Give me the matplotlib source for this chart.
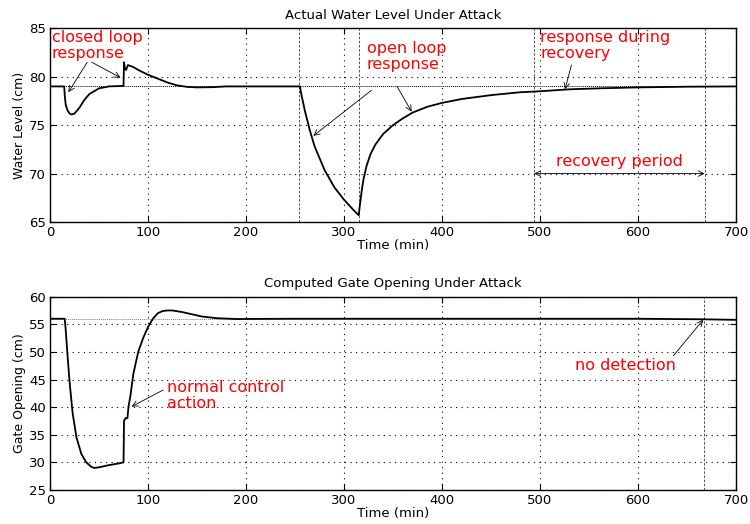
import numpy as np
import matplotlib
matplotlib.use("Agg")
import matplotlib.pyplot as plt

plt.rcParams['font.family'] = ['DejaVu Sans']

# water level (cm) vs time (min)
level_t = [0, 14.5, 15, 16, 18, 20, 22, 25, 30, 35, 40, 50, 60, 75, 75.5, 76.5, 77.5, 79.5,
           85, 90, 100, 110, 120, 130, 140, 150, 165, 180, 255, 256, 260, 265, 270, 280, 290,
           300, 310, 315, 316, 318, 320, 323, 327, 332, 340, 350, 360, 370, 385, 400, 420,
           450, 480, 500, 530, 560, 600, 650, 700]
level_v = [79, 79, 78.1, 77.1, 76.5, 76.2, 76.1, 76.2, 76.8, 77.6, 78.2, 78.8, 79.0, 79.05,
           81.5, 80.8, 80.7, 81.2, 81.0, 80.7, 80.2, 79.8, 79.4, 79.1, 78.95, 78.9, 78.92,
           79.0, 79.0, 78.4, 76.5, 74.5, 72.8, 70.4, 68.6, 67.3, 66.2, 65.7, 66.6, 68.2,
           69.5, 70.8, 72.0, 73.0, 74.1, 75.0, 75.7, 76.3, 76.9, 77.3, 77.7, 78.1, 78.4,
           78.5, 78.7, 78.8, 78.9, 78.97, 79.0]
level_ref = 79

# gate opening (cm) vs time (min)
gate_t = [0, 15, 16, 18, 20, 23, 27, 32, 37, 42, 45, 50, 60, 70, 75, 75.5, 77, 79, 80, 82,
          85, 90, 95, 100, 105, 110, 115, 120, 125, 135, 145, 155, 170, 190, 250, 400, 600,
          665, 700]
gate_v = [56, 56, 54, 49, 44.5, 39, 34.5, 31.5, 30, 29.2, 29, 29.1, 29.5, 29.8, 30, 37.5,
          38, 38, 40, 42, 46, 50, 52.5, 54.5, 56, 57, 57.4, 57.5, 57.5, 57.2, 56.8, 56.4,
          56.1, 55.95, 56, 56, 56, 55.9, 55.8]
gate_ref = 56

top_events = [254.5, 315, 494, 668]
bottom_events = [667]

red = '#ff0000'
fig = plt.figure(figsize=(7.5, 5.24), dpi=100)
ax1 = fig.add_axes([0.0667, 0.5763, 0.9147, 0.3697])
ax2 = fig.add_axes([0.0667, 0.0649, 0.9147, 0.369])


def style(ax, ylim, yticks):
    ax.set_xlim(0, 700)
    ax.set_ylim(*ylim)
    ax.set_xticks(np.arange(0, 701, 100))
    ax.set_yticks(yticks)
    ax.grid(True, color='black', linestyle=(0, (1, 4)), linewidth=0.8)
    ax.tick_params(direction='in', top=True, right=True, labelsize=9.5, length=4, pad=3)
    for s in ax.spines.values():
        s.set_linewidth(1.0)
    ax.set_xlabel('Time (min)', fontsize=9.5, labelpad=0)


ax1.plot([0, 700], [level_ref, level_ref], color='black', linestyle=(0, (1, 1)), linewidth=0.7)
ax1.plot(level_t, level_v, color='black', linewidth=1.3)
for x in top_events:
    ax1.axvline(x, color='black', linestyle=(0, (3, 2)), linewidth=0.6, alpha=0.8)
style(ax1, (65, 85), np.arange(65, 86, 5))
ax1.set_title('Actual Water Level Under Attack', fontsize=9.5, pad=7)
ax1.set_ylabel('Water Level (cm)', fontsize=9, labelpad=2)

arr = dict(arrowstyle='->', color='black', linewidth=0.6, shrinkA=0, shrinkB=0)
ax1.text(2, 84.85, 'closed loop\nresponse', color=red, fontsize=11.5, va='top', ha='left',
         linespacing=1.1)
ax1.annotate('', xy=(18.7, 78.4), xytext=(38, 81.5), arrowprops=arr)
ax1.annotate('', xy=(72, 79.9), xytext=(42.5, 81.5), arrowprops=arr)
ax1.text(323, 83.7, 'open loop\nresponse', color=red, fontsize=11.5, va='top', ha='left',
         linespacing=1.1)
ax1.annotate('', xy=(268.7, 73.9), xytext=(328, 78.6), arrowprops=arr)
ax1.annotate('', xy=(369, 76.4), xytext=(354, 79.0), arrowprops=arr)
ax1.text(500, 84.85, 'response during\nrecovery', color=red, fontsize=11.5, va='top',
         ha='left', linespacing=1.1)
ax1.annotate('', xy=(525.5, 78.7), xytext=(532, 81.2), arrowprops=arr)
ax1.text(581, 71.2, 'recovery period', color=red, fontsize=11.5, va='center', ha='center')
ax1.annotate('', xy=(494, 70), xytext=(668, 70),
             arrowprops=dict(arrowstyle='<->', color='black', linewidth=0.6,
                             shrinkA=0, shrinkB=0))

ax2.plot([0, 700], [gate_ref, gate_ref], color='gray', linestyle=(0, (1, 1)), linewidth=0.7)
ax2.plot(gate_t, gate_v, color='black', linewidth=1.3)
for x in bottom_events:
    ax2.axvline(x, color='black', linestyle=(0, (3, 2)), linewidth=0.6, alpha=0.8)
style(ax2, (25, 60), np.arange(25, 61, 5))
ax2.set_title('Computed Gate Opening Under Attack', fontsize=9.5, pad=7)
ax2.set_ylabel('Gate Opening (cm)', fontsize=9, labelpad=2)
ax2.text(119, 45, 'normal control\naction', color=red, fontsize=11.5, va='top', ha='left',
         linespacing=1.1)
ax2.annotate('', xy=(83.3, 40.1), xytext=(115.5, 43.1), arrowprops=arr)
ax2.text(587, 47.6, 'no detection', color=red, fontsize=11.5, va='center', ha='center')
ax2.annotate('', xy=(666.5, 55.8), xytext=(636, 49.3), arrowprops=arr)

fig.savefig('out.png', dpi=100)
